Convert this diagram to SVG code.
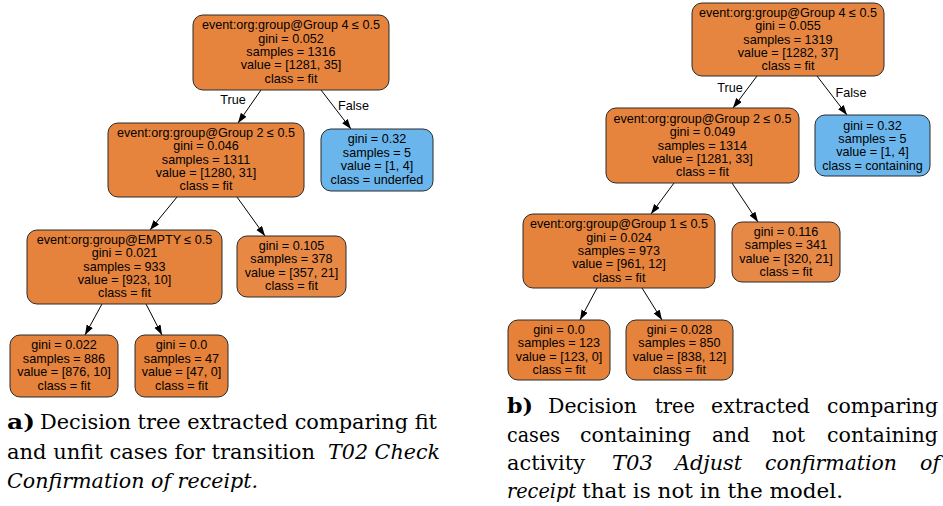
<svg xmlns="http://www.w3.org/2000/svg" width="943" height="506" viewBox="0 0 943 506">
<style>
.box{stroke:#2b2b2b;stroke-width:1}
.t{font-family:"Liberation Sans",Arial,sans-serif;font-size:12.6px;fill:#000;text-anchor:middle}
.e{stroke:#000;stroke-width:1;fill:none;marker-end:url(#ah)}
.lbl{font-family:"Liberation Sans",Arial,sans-serif;font-size:12.6px;fill:#000;text-anchor:middle}
.cap{font-family:'DejaVu Serif',serif;font-size:21px;fill:#000}
.b{font-weight:bold}
.i{font-style:italic}
</style>
<defs>
<marker id="ah" markerUnits="userSpaceOnUse" markerWidth="10" markerHeight="8" refX="10" refY="3.5" orient="auto">
<path d="M0,0 L10,3.5 L0,7 z" fill="#000"/>
</marker>
</defs>
<rect width="943" height="506" fill="#fff"/>

<g id="connectors">
<line class="e" x1="261" y1="90" x2="238" y2="123"/>
<line class="e" x1="321" y1="90" x2="351" y2="129"/>
<line class="e" x1="177" y1="197" x2="150" y2="230"/>
<line class="e" x1="237" y1="197" x2="265" y2="236"/>
<line class="e" x1="102" y1="304" x2="85" y2="335"/>
<line class="e" x1="146" y1="304" x2="162" y2="335"/>
<text class="lbl" x="233" y="103.5">True</text>
<text class="lbl" x="353.5" y="110">False</text>

<line class="e" x1="757" y1="76" x2="733" y2="108"/>
<line class="e" x1="817" y1="76" x2="847" y2="115"/>
<line class="e" x1="674" y1="183" x2="651" y2="214"/>
<line class="e" x1="732" y1="183" x2="758" y2="222"/>
<line class="e" x1="597" y1="288" x2="580" y2="320"/>
<line class="e" x1="642" y1="288" x2="662" y2="320"/>
<text class="lbl" x="730" y="91.5">True</text>
<text class="lbl" x="851" y="96.5">False</text>
</g>

<g id="a_root">
<rect class="box" x="193" y="15" width="196" height="75" rx="10" fill="#e6843e"/>
<text class="t" x="291" y="29.2">event:org:group@Group 4 ≤ 0.5</text>
<text class="t" x="291" y="42.6">gini = 0.052</text>
<text class="t" x="291" y="56">samples = 1316</text>
<text class="t" x="291" y="69.4">value = [1281, 35]</text>
<text class="t" x="291" y="82.8">class = fit</text>
</g>
<g id="a_g2">
<rect class="box" x="108" y="123" width="196" height="74" rx="10" fill="#e6843e"/>
<text class="t" x="206" y="136.7">event:org:group@Group 2 ≤ 0.5</text>
<text class="t" x="206" y="150.1">gini = 0.046</text>
<text class="t" x="206" y="163.5">samples = 1311</text>
<text class="t" x="206" y="176.9">value = [1280, 31]</text>
<text class="t" x="206" y="190.3">class = fit</text>
</g>
<g id="a_underfed">
<rect class="box" x="321" y="129" width="112" height="62" rx="10" fill="#6ab6ec"/>
<text class="t" x="377" y="143.4">gini = 0.32</text>
<text class="t" x="377" y="156.8">samples = 5</text>
<text class="t" x="377" y="170.2">value = [1, 4]</text>
<text class="t" x="377" y="183.6">class = underfed</text>
</g>
<g id="a_empty">
<rect class="box" x="27" y="230" width="195" height="74" rx="10" fill="#e5823b"/>
<text class="t" x="124.5" y="243.7">event:org:group@EMPTY ≤ 0.5</text>
<text class="t" x="124.5" y="257.1">gini = 0.021</text>
<text class="t" x="124.5" y="270.5">samples = 933</text>
<text class="t" x="124.5" y="283.9">value = [923, 10]</text>
<text class="t" x="124.5" y="297.3">class = fit</text>
</g>
<g id="a_leaf378">
<rect class="box" x="237" y="236" width="109" height="61" rx="10" fill="#e78945"/>
<text class="t" x="291.5" y="249.9">gini = 0.105</text>
<text class="t" x="291.5" y="263.3">samples = 378</text>
<text class="t" x="291.5" y="276.7">value = [357, 21]</text>
<text class="t" x="291.5" y="290.1">class = fit</text>
</g>
<g id="a_leaf886">
<rect class="box" x="10" y="335" width="108" height="62" rx="10" fill="#e5823b"/>
<text class="t" x="64" y="349.4">gini = 0.022</text>
<text class="t" x="64" y="362.8">samples = 886</text>
<text class="t" x="64" y="376.2">value = [876, 10]</text>
<text class="t" x="64" y="389.6">class = fit</text>
</g>
<g id="a_leaf47">
<rect class="box" x="135" y="335" width="93" height="62" rx="10" fill="#e58139"/>
<text class="t" x="181.5" y="349.4">gini = 0.0</text>
<text class="t" x="181.5" y="362.8">samples = 47</text>
<text class="t" x="181.5" y="376.2">value = [47, 0]</text>
<text class="t" x="181.5" y="389.6">class = fit</text>
</g>

<g id="b_root">
<rect class="box" x="692" y="3" width="192" height="73" rx="10" fill="#e6853f"/>
<text class="t" x="788" y="16.9">event:org:group@Group 4 ≤ 0.5</text>
<text class="t" x="788" y="30.2">gini = 0.055</text>
<text class="t" x="788" y="43.5">samples = 1319</text>
<text class="t" x="788" y="56.8">value = [1282, 37]</text>
<text class="t" x="788" y="70.1">class = fit</text>
</g>
<g id="b_g2">
<rect class="box" x="606" y="108" width="193" height="75" rx="10" fill="#e6843e"/>
<text class="t" x="702.5" y="122.9">event:org:group@Group 2 ≤ 0.5</text>
<text class="t" x="702.5" y="136.2">gini = 0.049</text>
<text class="t" x="702.5" y="149.5">samples = 1314</text>
<text class="t" x="702.5" y="162.8">value = [1281, 33]</text>
<text class="t" x="702.5" y="176.1">class = fit</text>
</g>
<g id="b_containing">
<rect class="box" x="815" y="115" width="115" height="61" rx="10" fill="#6ab6ec"/>
<text class="t" x="872.5" y="129.6">gini = 0.32</text>
<text class="t" x="872.5" y="142.9">samples = 5</text>
<text class="t" x="872.5" y="156.2">value = [1, 4]</text>
<text class="t" x="872.5" y="169.5">class = containing</text>
</g>
<g id="b_g1">
<rect class="box" x="523" y="214" width="192" height="74" rx="10" fill="#e5833c"/>
<text class="t" x="619" y="228.4">event:org:group@Group 1 ≤ 0.5</text>
<text class="t" x="619" y="241.7">gini = 0.024</text>
<text class="t" x="619" y="255">samples = 973</text>
<text class="t" x="619" y="268.3">value = [961, 12]</text>
<text class="t" x="619" y="281.6">class = fit</text>
</g>
<g id="b_leaf341">
<rect class="box" x="732" y="222" width="108" height="60" rx="10" fill="#e78946"/>
<text class="t" x="786" y="236.1">gini = 0.116</text>
<text class="t" x="786" y="249.4">samples = 341</text>
<text class="t" x="786" y="262.7">value = [320, 21]</text>
<text class="t" x="786" y="276">class = fit</text>
</g>
<g id="b_leaf123">
<rect class="box" x="508" y="320" width="102" height="60" rx="10" fill="#e58139"/>
<text class="t" x="559" y="334.1">gini = 0.0</text>
<text class="t" x="559" y="347.4">samples = 123</text>
<text class="t" x="559" y="360.7">value = [123, 0]</text>
<text class="t" x="559" y="374">class = fit</text>
</g>
<g id="b_leaf850">
<rect class="box" x="626" y="320" width="107" height="60" rx="10" fill="#e5833c"/>
<text class="t" x="679.5" y="334.1">gini = 0.028</text>
<text class="t" x="679.5" y="347.4">samples = 850</text>
<text class="t" x="679.5" y="360.7">value = [838, 12]</text>
<text class="t" x="679.5" y="374">class = fit</text>
</g>

<g id="caption_a">
<text class="cap b" x="7" y="429" textLength="28" lengthAdjust="spacingAndGlyphs">a)</text>
<text class="cap" x="40" y="429" textLength="397" lengthAdjust="spacingAndGlyphs">Decision tree extracted comparing fit</text>
<text class="cap" x="7" y="459" textLength="308" lengthAdjust="spacingAndGlyphs">and unfit cases for transition</text>
<text class="cap i" x="328" y="459" textLength="112" lengthAdjust="spacingAndGlyphs">T02 Check</text>
<text class="cap i" x="7" y="488" textLength="251" lengthAdjust="spacingAndGlyphs">Confirmation of receipt.</text>
</g>
<g id="caption_b">
<text class="cap b" x="507" y="413" textLength="26" lengthAdjust="spacingAndGlyphs">b)</text>
<text class="cap" x="548" y="413" textLength="89" lengthAdjust="spacingAndGlyphs">Decision</text>
<text class="cap" x="655" y="413" textLength="40" lengthAdjust="spacingAndGlyphs">tree</text>
<text class="cap" x="711" y="413" textLength="99" lengthAdjust="spacingAndGlyphs">extracted</text>
<text class="cap" x="827" y="413" textLength="111" lengthAdjust="spacingAndGlyphs">comparing</text>
<text class="cap" x="507" y="442" textLength="53" lengthAdjust="spacingAndGlyphs">cases</text>
<text class="cap" x="580" y="442" textLength="111" lengthAdjust="spacingAndGlyphs">containing</text>
<text class="cap" x="712" y="442" textLength="38" lengthAdjust="spacingAndGlyphs">and</text>
<text class="cap" x="772" y="442" textLength="33" lengthAdjust="spacingAndGlyphs">not</text>
<text class="cap" x="827" y="442" textLength="111" lengthAdjust="spacingAndGlyphs">containing</text>
<text class="cap" x="507" y="470" textLength="78" lengthAdjust="spacingAndGlyphs">activity</text>
<text class="cap i" x="612" y="470" textLength="41" lengthAdjust="spacingAndGlyphs">T03</text>
<text class="cap i" x="675" y="470" textLength="67" lengthAdjust="spacingAndGlyphs">Adjust</text>
<text class="cap i" x="765" y="470" textLength="132" lengthAdjust="spacingAndGlyphs">confirmation</text>
<text class="cap i" x="920" y="470" textLength="20" lengthAdjust="spacingAndGlyphs">of</text>
<text class="cap i" x="507" y="498" textLength="69" lengthAdjust="spacingAndGlyphs">receipt</text>
<text class="cap" x="582" y="498" textLength="261" lengthAdjust="spacingAndGlyphs">that is not in the model.</text>
</g>
</svg>
